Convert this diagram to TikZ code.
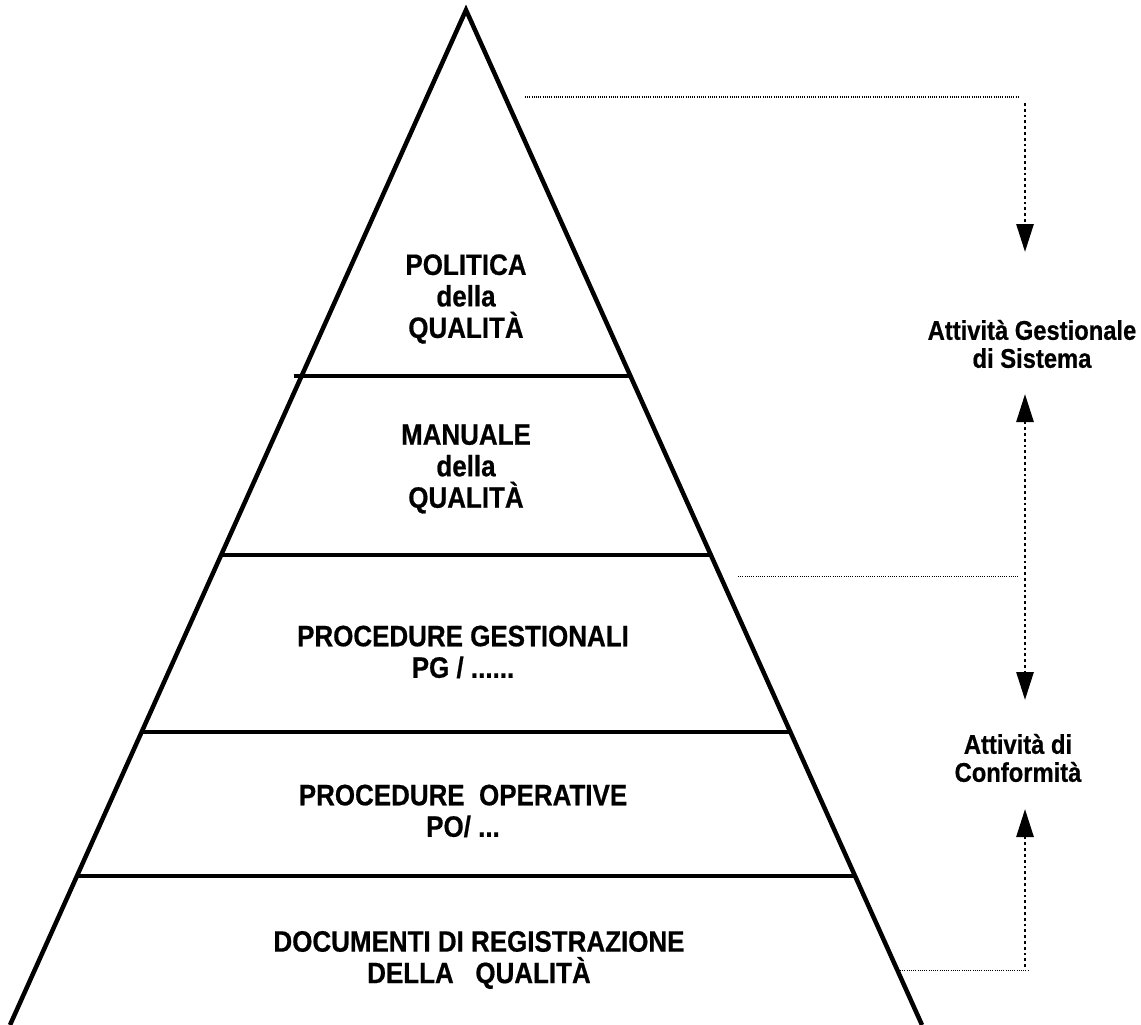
\documentclass[tikz,border=0pt]{standalone}
\usepackage{fontspec}
\setmainfont{Liberation Sans}[FakeStretch=0.88,BoldFeatures={FakeBold=0.6}]
\usetikzlibrary{arrows.meta,calc}
\begin{document}
\begin{tikzpicture}[x=1pt,y=-1pt,
  pyr/.style={line width=4.5pt,line join=miter},
  divider/.style={line width=4.5pt},
  thindot/.style={line width=1pt,dash pattern=on 1pt off 1.2pt},
  arrdot/.style={line width=2.8pt,dash pattern=on 2.8pt off 3pt,
     -{Triangle[width=17pt,length=28pt]}},
  arrdotboth/.style={line width=2.8pt,dash pattern=on 2.8pt off 3pt,
     {Triangle[width=17pt,length=28pt]}-{Triangle[width=17pt,length=28pt]}},
  lvl/.style={font=\bfseries\fontsize{29.5}{31.5}\selectfont,align=center,inner sep=0pt},
  side/.style={font=\bfseries\fontsize{27}{28}\selectfont,align=center,inner sep=0pt}]
\useasboundingbox[fill=white] (0,0) rectangle (1141,1025);
% pyramid
\coordinate (A) at (466,10);
\coordinate (BL) at (10,1025);
\coordinate (BR) at (922,1025);
\draw[pyr] (BL) -- (A) -- (BR);
% dividers
\coordinate (d1l) at ($(A)!0.3606!(BL)$);
\coordinate (d1r) at ($(A)!0.3606!(BR)$);
\coordinate (d2l) at ($(A)!0.5370!(BL)$);
\coordinate (d2r) at ($(A)!0.5370!(BR)$);
\coordinate (d3l) at ($(A)!0.7113!(BL)$);
\coordinate (d3r) at ($(A)!0.7113!(BR)$);
\coordinate (d4l) at ($(A)!0.8532!(BL)$);
\coordinate (d4r) at ($(A)!0.8532!(BR)$);
\draw[divider] ($(d1l)+(-8,0)$) -- (d1r);
\draw[divider] (d2l) -- (d2r);
\draw[divider] (d3l) -- (d3r);
\draw[divider] (d4l) -- (d4r);
% level texts
\node[lvl] (pol) at (466,299) {POLITICA\\della\\QUALITÀ};
\node[lvl] (man) at (466,469) {MANUALE\\della\\QUALITÀ};
\node[lvl] (pg) at (463,652) {PROCEDURE GESTIONALI\\PG / ......};
\node[lvl] (po) at (463,811) {PROCEDURE\ \ OPERATIVE\\PO/ ...};
\node[lvl] (doc) at (479,960) {DOCUMENTI DI REGISTRAZIONE\\DELLA\ \ \ QUALITÀ};
% side texts
\node[side] (ges) at (1032,344) {Attività Gestionale\\di Sistema};
\node[side] (conf) at (1018,758) {Attività di\\Conformità};
% dotted guides
\coordinate (h1a) at (525,97);
\coordinate (h1b) at (1020,97);
\coordinate (v1a) at (1025,103);
\coordinate (v1b) at (1025,252);
\draw[thindot] (h1a) -- (h1b);
\draw[arrdot] (v1a) -- (v1b);
\coordinate (h2a) at (738,576);
\coordinate (h2b) at (1018,576);
\coordinate (v2a) at (1025,394);
\coordinate (v2b) at (1025,700);
\draw[thindot] (h2a) -- (h2b);
\draw[arrdotboth] (v2a) -- (v2b);
\coordinate (h3a) at (900,970);
\coordinate (h3b) at (1028,970);
\coordinate (v3a) at (1025,967);
\coordinate (v3b) at (1025,809);
\draw[thindot] (h3a) -- (h3b);
\draw[arrdot] (v3a) -- (v3b);
\end{tikzpicture}
\end{document}
